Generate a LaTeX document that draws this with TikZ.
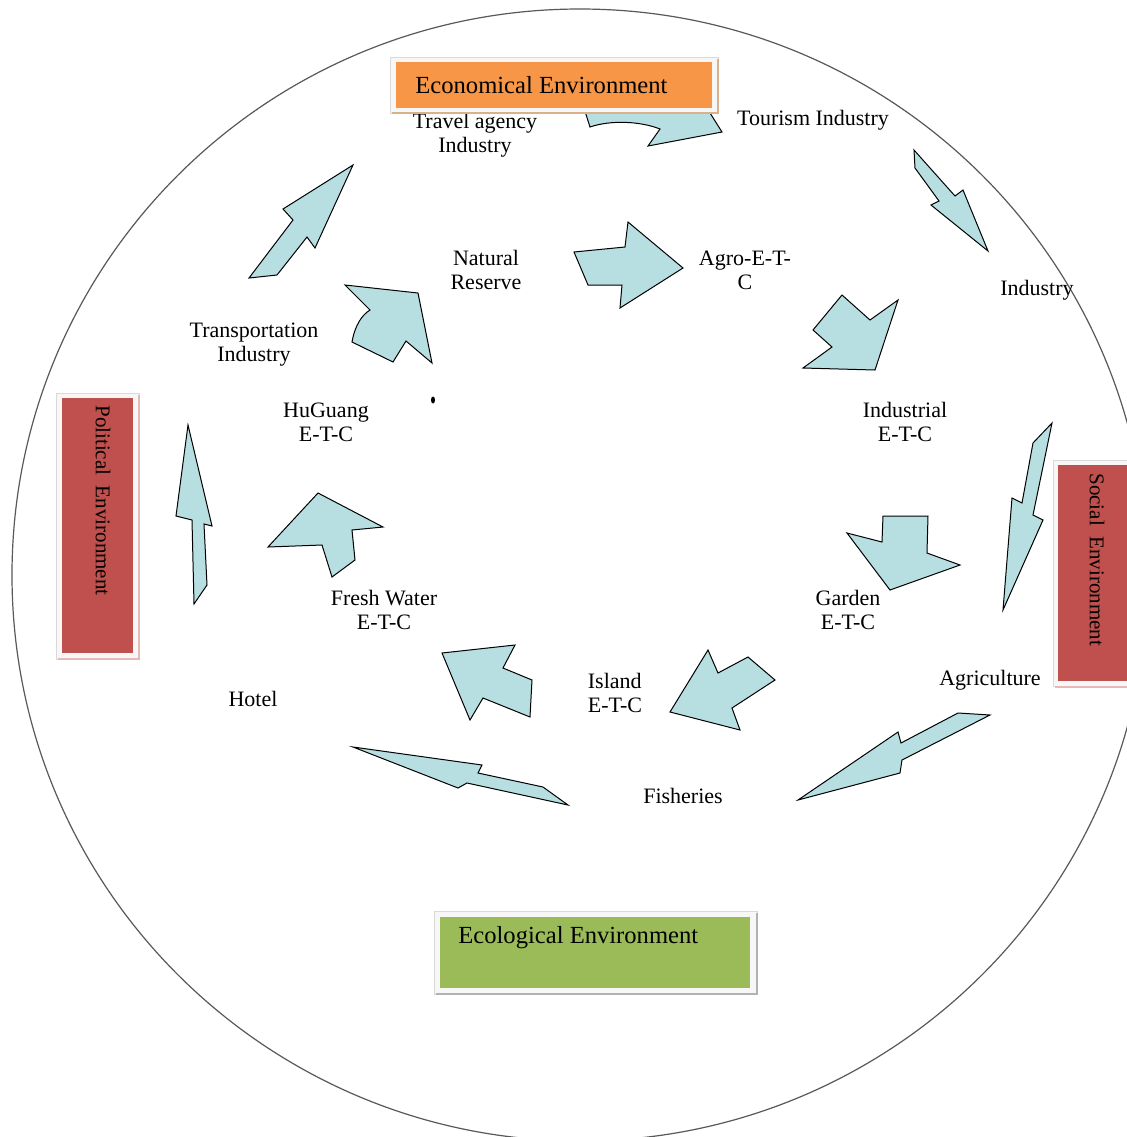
\documentclass[tikz,border=0pt]{standalone}
\usepackage{fontspec}
\setmainfont{Liberation Serif}
\usetikzlibrary{positioning}
\definecolor{arrowfill}{HTML}{B7DEE1}
\definecolor{econfill}{HTML}{F79646}
\definecolor{socfill}{HTML}{C0504D}
\definecolor{ecofill}{HTML}{9BBB59}
\begin{document}
\begin{tikzpicture}[x=0.5pt,y=-0.5pt,
	lbl/.style={align=center,font=\fontsize{11}{12}\selectfont,inner sep=0pt},
	blockarrow/.style={draw=black,fill=arrowfill,line width=0.5pt},
	envframe/.style={draw=gray!30,fill=gray!6,line width=0.5pt},
	envshadow/.style={draw=#1,line width=1.2pt},
	envtext/.style={font=\fontsize{12.3}{14}\selectfont,inner sep=0pt},
	sidetext/.style={font=\fontsize{10.5}{12}\selectfont,inner sep=0pt,rotate=-90,anchor=west}]
	\useasboundingbox (0,0) rectangle (1127,1137);
	\clip (0,0) rectangle (1127,1137);
	\fill[white] (0,0) rectangle (1127,1137);
	\draw[line width=0.6pt,gray!70!black] (580,575) ellipse [x radius=568, y radius=566];
	
	\draw[blockarrow] (583,105) -- (590,127) .. controls (610,120) and (640,121) .. (660,129) -- (648,146) -- (722,132) -- (705,105) -- cycle;
	\draw[blockarrow] (914,150) -- (955,196) -- (963,190) -- (988,251) -- (931,205) -- (939,201) -- (915,168) -- cycle;
	\draw[blockarrow] (1052,423) -- (1033,443) -- (1022,503) -- (1012,498) -- (1003,610) -- (1043,520) -- (1033,515) -- cycle;
	\draw[blockarrow] (990,715) -- (958,713) -- (901,743) -- (898,732) -- (798,800) -- (900,773) -- (902,760) -- cycle;
	\draw[blockarrow] (353,747) -- (482,765) -- (478,773) -- (543,787) -- (568,805) -- (467,783) -- (458,788) -- cycle;
	\draw[blockarrow] (188,425) -- (212,526) -- (204,524) -- (207,585) -- (194,604) -- (192,520) -- (176,516) -- cycle;
	\draw[blockarrow] (353,165) -- (283,209) -- (293,220) -- (249,278) -- (277,275) -- (307,237) -- (315,248) -- cycle;
	\draw[blockarrow] (345,285) -- (418,293) -- (432,363) -- (406,341) -- (393,362) -- (352,342) .. controls (355,325) and (362,315) .. (370,310) -- cycle;
	\draw[blockarrow] (574,252) -- (625,247) -- (628,222) -- (683,268) -- (620,308) -- (622,285) -- (588,285) -- cycle;
	\draw[blockarrow] (842,295) -- (870,320) -- (898,300) -- (875,370) -- (803,368) -- (832,347) -- (813,330) -- cycle;
	\draw[blockarrow] (883,516) -- (928,516) -- (927,553) -- (960,565) -- (890,590) -- (847,533) -- (882,542) -- cycle;
	\draw[blockarrow] (708,650) -- (718,673) -- (748,657) -- (775,680) -- (732,708) -- (740,730) -- (670,712) -- cycle;
	\draw[blockarrow] (442,653) -- (515,645) -- (503,668) -- (532,680) -- (530,717) -- (483,698) -- (470,720) -- cycle;
	\draw[blockarrow] (318,493) -- (383,527) -- (352,530) -- (355,560) -- (332,577) -- (322,545) -- (268,547) -- cycle;
	\fill (433,400) ellipse [x radius=2, y radius=3.5];
	
	\node[lbl] (travel) at (475,135) {Travel agency\\Industry};
	\node[lbl] (tourism) at (813,120) {Tourism Industry};
	\node[lbl] (industry) at (1037,290) {Industry};
	\node[lbl] (natural) at (486,270) {Natural\\Reserve};
	\node[lbl] (agro) at (745,270) {Agro-E-T-\\C};
	\node[lbl] (transport) at (254,345) {Transportation\\Industry};
	\node[lbl] (huguang) at (326,422) {HuGuang\\E-T-C};
	\node[lbl] (industrial) at (905,422) {Industrial\\E-T-C};
	\node[lbl] (garden) at (848,610) {Garden\\E-T-C};
	\node[lbl] (fresh) at (384,610) {Fresh Water\\E-T-C};
	\node[lbl,align=left] (island) at (615,693) {Island\\E-T-C};
	\node[lbl] (agri) at (990,680) {Agriculture};
	\node[lbl] (hotel) at (253,699) {Hotel};
	\node[lbl] (fisheries) at (683,796) {Fisheries};
	
	\draw[envframe] (390,57) rectangle (718,113);
	\draw[envshadow=brown!60] (392,113) -- (718,113) -- (718,59);
	\fill[econfill] (396,62) rectangle (712,108);
	\node[envtext,anchor=west] (econ) at (415,85) {Economical Environment};
	
	\draw[envframe] (56,393) rectangle (139,659);
	\draw[envshadow=socfill!40] (58,659) -- (139,659) -- (139,395);
	\fill[socfill] (62,398) rectangle (133,653);
	\node[sidetext] (polit) at (103,405) {Political~~Environment};
	
	\draw[envframe] (1053,460) rectangle (1140,686);
	\draw[envshadow=socfill!40] (1055,687) -- (1140,687);
	\fill[socfill] (1058,465) rectangle (1140,681);
	\node[sidetext] (social) at (1097,473) {Social~~Environment};
	
	\draw[envframe] (434,911) rectangle (757,994);
	\draw[envshadow=gray!60] (436,994) -- (757,994) -- (757,913);
	\fill[ecofill] (440,917) rectangle (750,988);
	\node[envtext,anchor=west] (eco) at (458,938) {Ecological Environment};
\end{tikzpicture}
\end{document}
